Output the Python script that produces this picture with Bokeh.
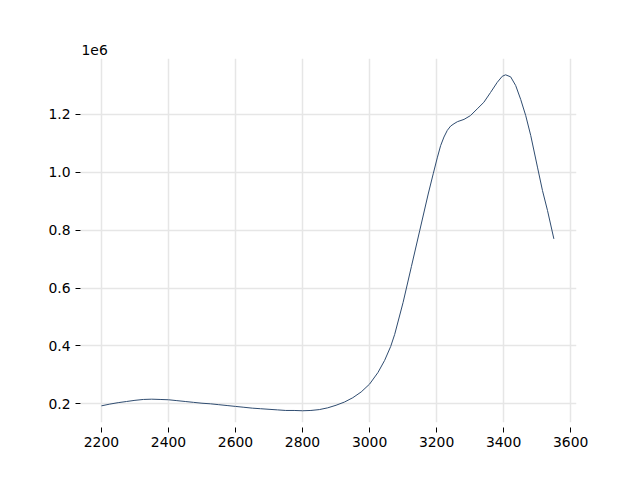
from bokeh.plotting import figure
from bokeh.models import Range1d, FixedTicker, CustomJSTickFormatter, Title
from bokeh.embed import file_html
from bokeh.resources import INLINE

# Wavenumber-like x values and intensity values
x_vals = [2200, 2225, 2250, 2275, 2300, 2325, 2350, 2375, 2400, 2425, 2450, 2475,
          2500, 2525, 2550, 2575, 2600, 2625, 2650, 2675, 2700, 2725, 2750, 2775,
          2800, 2825, 2850, 2875, 2900, 2925, 2950, 2975, 3000, 3025, 3045, 3063,
          3075, 3100, 3125, 3150, 3175, 3190, 3202, 3212, 3222, 3232, 3242, 3252,
          3262, 3282, 3301, 3321, 3341, 3361, 3381, 3396, 3406, 3421, 3436, 3451,
          3466, 3481, 3501, 3516, 3531, 3550]
y_vals = [0.193, 0.199, 0.204, 0.208, 0.212, 0.215, 0.216, 0.215, 0.214, 0.211,
          0.208, 0.205, 0.202, 0.200, 0.197, 0.194, 0.191, 0.188, 0.185, 0.183,
          0.181, 0.179, 0.177, 0.177, 0.176, 0.177, 0.180, 0.186, 0.195, 0.206,
          0.221, 0.241, 0.268, 0.308, 0.350, 0.398, 0.440, 0.550, 0.675, 0.800,
          0.925, 0.995, 1.050, 1.092, 1.122, 1.145, 1.160, 1.168, 1.175, 1.183,
          1.196, 1.219, 1.242, 1.276, 1.311, 1.332, 1.337, 1.330, 1.300, 1.252,
          1.196, 1.127, 1.018, 0.937, 0.868, 0.770]
y_scaled = [v * 1e6 for v in y_vals]

x_ticks = [2200, 2400, 2600, 2800, 3000, 3200, 3400, 3600]
y_ticks = [0.2e6, 0.4e6, 0.6e6, 0.8e6, 1.0e6, 1.2e6]

p = figure(width=632, height=472, output_backend="svg", toolbar_location=None,
           x_range=Range1d(2137.5, 3617.5), y_range=Range1d(0.1354e6, 1.3934e6),
           min_border_left=80, min_border_right=56, min_border_top=58,
           min_border_bottom=50)
p.outline_line_color = None
p.background_fill_color = "white"
p.border_fill_color = "white"

p.line(x_vals, y_scaled, line_color="#2f4c70", line_width=1)

for ax in (p.xaxis[0], p.yaxis[0]):
    ax.axis_line_color = None
    ax.major_tick_line_color = "black"
    ax.major_tick_line_width = 1
    ax.minor_tick_line_color = None
    ax.major_label_text_font = "DejaVu Sans"
    ax.major_label_text_font_size = "13.9px"
    ax.major_label_text_color = "black"

p.xaxis.ticker = FixedTicker(ticks=x_ticks)
p.yaxis.ticker = FixedTicker(ticks=y_ticks)
p.yaxis.formatter = CustomJSTickFormatter(code="return (tick/1e6).toFixed(1);")

p.xaxis.major_tick_in = -5
p.xaxis.major_tick_out = 10
p.xaxis.major_label_standoff = 4
p.yaxis.major_tick_in = 0
p.yaxis.major_tick_out = 5
p.yaxis.major_label_standoff = 5

p.xgrid.ticker = FixedTicker(ticks=x_ticks)
p.ygrid.ticker = FixedTicker(ticks=y_ticks)
p.grid.grid_line_color = "#e6e6e6"
p.grid.grid_line_width = 1.5

p.add_layout(Title(text="1e6", align="left", text_font="DejaVu Sans",
                   text_font_size="13.9px", text_font_style="normal",
                   text_color="black", standoff=7, offset=1), "above")

open("out.html", "w").write(file_html(p, INLINE))
